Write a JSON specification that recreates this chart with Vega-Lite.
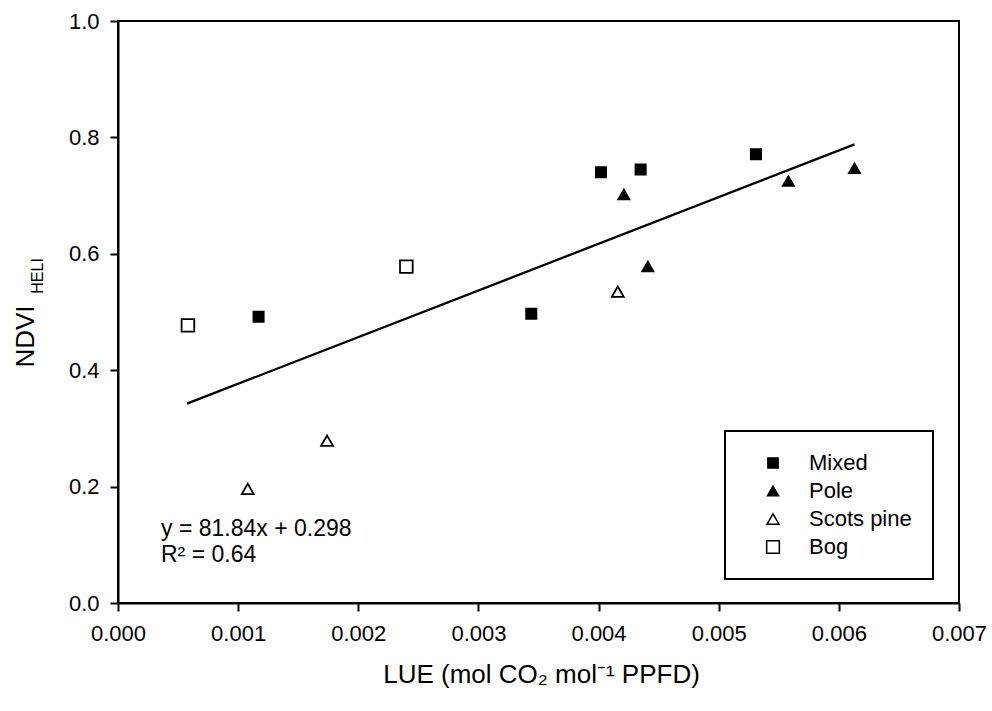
{
  "$schema": "https://vega.github.io/schema/vega-lite/v6.json",
  "width": 841,
  "height": 582,
  "autosize": {"type": "none"},
  "padding": {"left": 118, "top": 21, "right": 33, "bottom": 108},
  "background": "white",
  "config": {
    "font": "Liberation Sans",
    "view": {"stroke": "black", "strokeWidth": 2},
    "axis": {
      "domainColor": "black", "domainWidth": 2, "tickColor": "black", "tickWidth": 2, "tickSize": 8,
      "labelColor": "black", "labelFontSize": 22, "titleColor": "black", "titleFontSize": 26, "titleFontWeight": "normal", "grid": false,
      "labelFlush": false
    },
    "legend": {
      "orient": "none", "legendX": 607, "legendY": 410,
      "strokeColor": "black", "strokeWidth": 2, "fillColor": "white",
      "padding": 21, "labelFontSize": 22, "labelColor": "black",
      "symbolSize": 70, "symbolStrokeWidth": 1.5,
      "rowPadding": 6, "labelOffset": 25, "symbolOffset": 16
    }
  },
  "encoding": {
    "x": {
      "field": "x", "type": "quantitative",
      "scale": {"domain": [0, 0.007], "nice": false, "zero": false},
      "axis": {
        "title": "LUE (mol CO₂ mol⁻¹ PPFD)",
        "values": [0, 0.001, 0.002, 0.003, 0.004, 0.005, 0.006, 0.007],
        "format": ".3f", "labelPadding": 12,
        "titleBaseline": "alphabetic", "titleX": 423, "titleY": 79
      }
    },
    "y": {
      "field": "y", "type": "quantitative",
      "scale": {"domain": [0, 1], "nice": false},
      "axis": {
        "title": "NDVI",
        "values": [0, 0.2, 0.4, 0.6, 0.8, 1.0],
        "format": ".1f", "labelPadding": 11,
        "titleBaseline": "alphabetic", "titleX": -85, "titleY": 315
      }
    }
  },
  "layer": [
    {
      "data": {"values": [
        {"x": 0.000574, "y": 0.3425},
        {"x": 0.00613, "y": 0.788}
      ]},
      "mark": {"type": "line", "color": "black", "strokeWidth": 2.3}
    },
    {
      "data": {"values": [
        {"type": "Bog", "x": 0.000582, "y": 0.477},
        {"type": "Mixed", "x": 0.00117, "y": 0.492},
        {"type": "Bog", "x": 0.00240, "y": 0.578},
        {"type": "Mixed", "x": 0.00344, "y": 0.497},
        {"type": "Mixed", "x": 0.00402, "y": 0.740},
        {"type": "Mixed", "x": 0.00435, "y": 0.745},
        {"type": "Pole", "x": 0.00421, "y": 0.702},
        {"type": "Pole", "x": 0.00441, "y": 0.578},
        {"type": "Scots pine", "x": 0.00416, "y": 0.535},
        {"type": "Mixed", "x": 0.00531, "y": 0.771},
        {"type": "Pole", "x": 0.00558, "y": 0.725},
        {"type": "Pole", "x": 0.00613, "y": 0.747},
        {"type": "Scots pine", "x": 0.00108, "y": 0.196},
        {"type": "Scots pine", "x": 0.00174, "y": 0.279}
      ]},
      "mark": {"type": "point", "filled": true, "strokeWidth": 1.8, "opacity": 1, "fillOpacity": 1, "strokeOpacity": 1},
      "encoding": {
        "shape": {
          "field": "type", "type": "nominal",
          "scale": {"domain": ["Mixed", "Pole", "Scots pine", "Bog"], "range": ["square", "triangle-up", "triangle-up", "square"]},
          "legend": {"title": null}
        },
        "fill": {
          "field": "type", "type": "nominal",
          "scale": {"domain": ["Mixed", "Pole", "Scots pine", "Bog"], "range": ["black", "black", "white", "white"]},
          "legend": {"title": null}
        },
        "stroke": {
          "field": "type", "type": "nominal",
          "scale": {"domain": ["Mixed", "Pole", "Scots pine", "Bog"], "range": ["black", "black", "black", "black"]},
          "legend": {"title": null}
        },
        "size": {
          "field": "type", "type": "nominal",
          "scale": {"domain": ["Mixed", "Pole", "Scots pine", "Bog"], "range": [105, 160, 130, 95]},
          "legend": {"title": null, "symbolSize": 70, "encode": {"symbols": {"update": {"size": {"value": 70}}}}}
        }
      }
    },
    {
      "data": {"values": [
        {"x": 0.000358, "y": 0.127, "label": "y = 81.84x + 0.298"},
        {"x": 0.000358, "y": 0.0825, "label": "R² = 0.64"}
      ]},
      "mark": {"type": "text", "align": "left", "baseline": "middle", "fontSize": 23, "color": "black"},
      "encoding": {"text": {"field": "label"}}
    },
    {
      "data": {"values": [
        {"x": -0.000624, "y": 0.562, "label": "HELI"}
      ]},
      "mark": {"type": "text", "align": "center", "baseline": "alphabetic", "angle": 270, "fontSize": 16, "color": "black"},
      "encoding": {"text": {"field": "label"}}
    }
  ]
}
